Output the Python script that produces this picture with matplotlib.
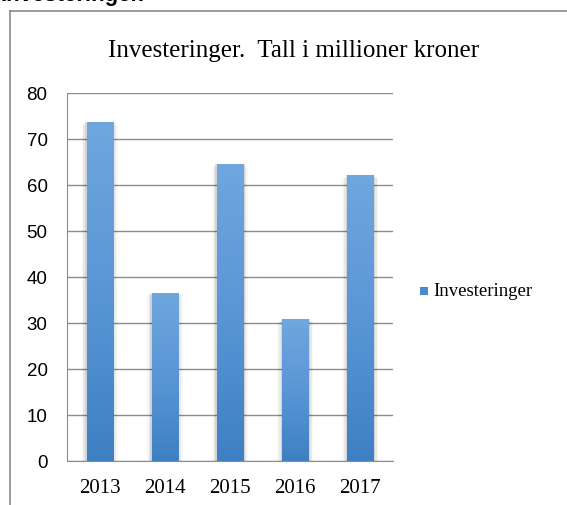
import numpy as np
import matplotlib.pyplot as plt
from matplotlib.colors import LinearSegmentedColormap
from matplotlib.patches import Rectangle

years = ["2013", "2014", "2015", "2016", "2017"]
values = [73.7, 36.6, 64.6, 30.8, 62.1]
y_ticks = [0, 10, 20, 30, 40, 50, 60, 70, 80]

fig = plt.figure(figsize=(5.67, 5.06), dpi=100)
ax = fig.add_axes([67/567, 44/506, 326/567, 368/506])

grid_col = "#8c8c8c"
grad = LinearSegmentedColormap.from_list("bargrad", ["#3d80c3", "#5a96d6", "#6fa7de"])
width = 0.4

for i, v in enumerate(values):
    # soft shadow at the sides of the bar
    for k, a in enumerate([0.09, 0.06, 0.03]):
        off = 0.025 * (k + 1)
        ax.add_patch(Rectangle((i - width/2 - off, 0), width + 2*off, v - 0.3*k,
                               facecolor="black", alpha=a, edgecolor="none", zorder=2))
    bar = Rectangle((i - width/2, 0), width, v, facecolor="none", edgecolor="none", zorder=3)
    ax.add_patch(bar)
    img = ax.imshow(np.linspace(0, 1, 256).reshape(-1, 1), cmap=grad, origin="lower",
                    extent=[i - width/2, i + width/2, 0, v], aspect="auto", zorder=3)
    img.set_clip_path(bar)

ax.set_xlim(-0.5, 4.5)
ax.set_ylim(0, 80)
ax.set_yticks(y_ticks)
ax.set_yticklabels([str(t) for t in y_ticks], fontfamily="Liberation Sans", fontsize=13.5)
ax.set_xticks(range(len(years)))
ax.set_xticklabels(years, fontfamily="Liberation Serif", fontsize=15)
ax.tick_params(length=0, pad=12)
ax.tick_params(axis="y", pad=14)
ax.yaxis.grid(True, color=grid_col, linewidth=1.0)
ax.set_axisbelow(True)
for s in ["top", "right"]:
    ax.spines[s].set_visible(False)
ax.spines["left"].set_color(grid_col)
ax.spines["bottom"].set_color(grid_col)

fig.text(294/567, 1 - 51/506, "Investeringer.  Tall i millioner kroner", ha="center", va="center",
         fontfamily="Liberation Serif", fontsize=18)

# legend
fig.patches.append(Rectangle((420/567, 1 - 296/506), 8/567, 8/506, transform=fig.transFigure,
                             facecolor="#4a8bd0", edgecolor="none"))
fig.text(433/567, 1 - 292/506, "Investeringer", ha="left", va="center",
         fontfamily="Liberation Serif", fontsize=13.5)

# chart frame (left and top lines)
fig.add_artist(plt.Line2D([10/567, 10/567], [0, 1 - 12/506], transform=fig.transFigure,
                          color="#8a8a8a", linewidth=1.2))
fig.add_artist(plt.Line2D([10/567, 1], [1 - 12/506, 1 - 12/506], transform=fig.transFigure,
                          color="#8a8a8a", linewidth=1.2))

# heading above the chart, cut off at the top
fig.text(0/567, 1 - 1.5/506, "Investeringer.", ha="left", va="baseline",
         fontfamily="Liberation Sans", fontsize=16, fontweight="bold")

fig.savefig("out.png", dpi=100)
